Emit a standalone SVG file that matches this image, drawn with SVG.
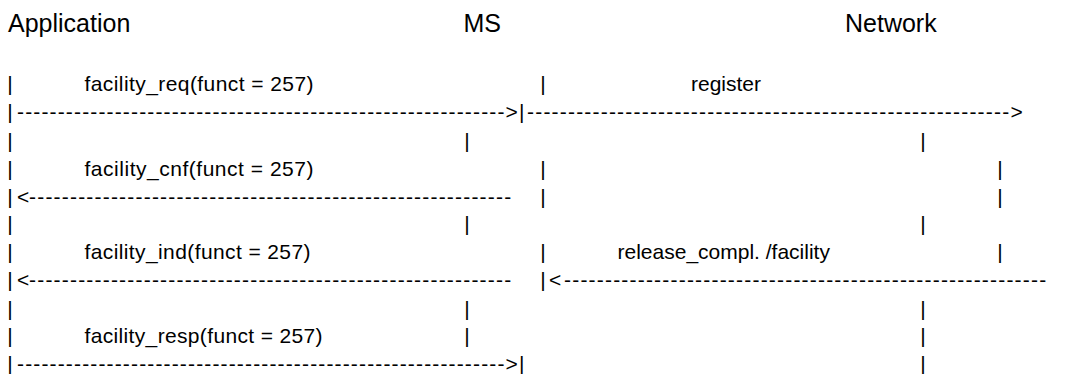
<svg xmlns="http://www.w3.org/2000/svg" width="1070" height="374" viewBox="0 0 1070 374">
<style>
  text { font-family: "Liberation Sans", Arial, sans-serif; fill: #000; }
  .hdr { font-size: 25px; }
  .t { font-size: 21px; }
  .d { font-size: 21px; letter-spacing: 1.2px; }
  .d2 { font-size: 21px; letter-spacing: 1.15px; }
</style>
<rect width="1070" height="374" fill="#fff"/>
<g id="application">
  <text class="hdr" x="8" y="32">Application</text>
</g>
<g id="ms">
  <text class="hdr" x="463.5" y="32">MS</text>
</g>
<g id="network">
  <text class="hdr" x="845" y="32">Network</text>
</g>
<g id="lifelines">
  <text class="t" x="7.3" y="91">|</text>
  <text class="t" x="540.3" y="91">|</text>
  <text class="t" x="7.3" y="148">|</text>
  <text class="t" x="464.3" y="148">|</text>
  <text class="t" x="920.3" y="148">|</text>
  <text class="t" x="7.3" y="176">|</text>
  <text class="t" x="540.3" y="176">|</text>
  <text class="t" x="997.3" y="176">|</text>
  <text class="t" x="540.3" y="204">|</text>
  <text class="t" x="997.3" y="204">|</text>
  <text class="t" x="7.3" y="231">|</text>
  <text class="t" x="464.3" y="231">|</text>
  <text class="t" x="920.3" y="231">|</text>
  <text class="t" x="7.3" y="259">|</text>
  <text class="t" x="540.3" y="259">|</text>
  <text class="t" x="997.3" y="259">|</text>
  <text class="t" x="7.3" y="316">|</text>
  <text class="t" x="464.3" y="316">|</text>
  <text class="t" x="920.3" y="316">|</text>
  <text class="t" x="7.3" y="343">|</text>
  <text class="t" x="464.3" y="343">|</text>
  <text class="t" x="920.3" y="343">|</text>
  <text class="t" x="920.3" y="371">|</text>
</g>
<g id="labels">
  <text class="t" x="84.5" y="91" textLength="229" lengthAdjust="spacing">facility_req(funct = 257)</text>
  <text class="t" x="691" y="91">register</text>
  <text class="t" x="84.5" y="176" textLength="229" lengthAdjust="spacing">facility_cnf(funct = 257)</text>
  <text class="t" x="84.5" y="259" textLength="226" lengthAdjust="spacing">facility_ind(funct = 257)</text>
  <text class="t" x="617.5" y="259">release_compl. /facility</text>
  <text class="t" x="84.5" y="343" textLength="238" lengthAdjust="spacing">facility_resp(funct = 257)</text>
</g>
<g id="connectors">
  <text class="t" x="7.3" y="119">|</text>
  <text class="d2" x="17" y="119">------------------------------------------------------------&gt;|</text>
  <text class="d" x="527" y="119">-----------------------------------------------------------&gt;</text>
  <text class="t" x="7.3" y="204">|</text>
  <text class="t" x="17" y="204">&lt;</text>
  <text class="d" x="29" y="204">-----------------------------------------------------------</text>
  <text class="t" x="7.3" y="287">|</text>
  <text class="t" x="17" y="287">&lt;</text>
  <text class="d" x="29" y="287">-----------------------------------------------------------</text>
  <text class="t" x="540.3" y="287">|</text>
  <text class="t" x="549" y="287">&lt;</text>
  <text class="d" x="564" y="287">-----------------------------------------------------------</text>
  <text class="t" x="7.3" y="371">|</text>
  <text class="d2" x="17" y="371">------------------------------------------------------------&gt;|</text>
</g>
</svg>
